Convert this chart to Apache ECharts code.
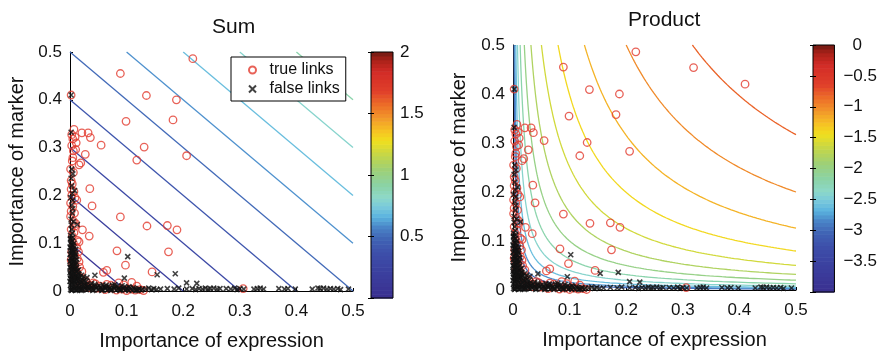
<!DOCTYPE html>
<html>
<head>
<meta charset="utf-8">
<title>Sum and Product of importances</title>
<script src="https://cdn.jsdelivr.net/npm/echarts@6/dist/echarts.min.js"></script>
<style>
  html, body { margin: 0; padding: 0; background: #fff; }
  #chart { width: 880px; height: 356px; }
</style>
</head>
<body>
<div id="chart"></div>
<script>
// ---- data -------------------------------------------------------------
// [importance of expression, importance of marker]
const trueLinks = [
  [0.217,0.486],[0.319,0.454],[0.410,0.420],[0.089,0.455],[0.135,0.409],[0.188,0.400],
  [0.099,0.355],[0.182,0.358],[0.131,0.301],[0.118,0.274],[0.206,0.283],[0.055,0.305],
  [0.089,0.155],[0.136,0.136],[0.172,0.137],[0.189,0.128],[0.174,0.082],[0.083,0.084],
  [0.098,0.054],[0.145,0.040],[0.059,0.039],[0.065,0.043],[0.109,0.018],[0.086,0.017],
  [0.306,0.005],[0.035,0.214],[0.039,0.178],[0.022,0.128],[0.034,0.115],[0.027,0.286],
  [0.016,0.264],[0.019,0.268],[0.021,0.331],[0.032,0.331],[0.036,0.321],[0.011,0.310],
  [0.007,0.338],[0.002,0.410],
  [0.003,0.327],[0.005,0.318],[0.009,0.322],[0.003,0.304],[0.006,0.293],[0.010,0.296],
  [0.005,0.279],[0.004,0.272],[0.001,0.255],[0.006,0.248],[0.002,0.231],[0.004,0.224],
  [0.002,0.213],[0.007,0.208],[0.003,0.200],[0.009,0.195],[0.012,0.190],[0.001,0.184],
  [0.005,0.177],[0.002,0.167],[0.008,0.163],[0.001,0.156],[0.006,0.146],[0.010,0.141],
  [0.009,0.136],[0.002,0.129],[0.007,0.122],[0.004,0.115],[0.013,0.106],[0.006,0.100],
  [0.016,0.103],[0.012,0.090],[0.003,0.082],[0.008,0.076],[0.013,0.068],[0.016,0.061],
  [0.004,0.058],[0.009,0.048],[0.021,0.041],[0.013,0.035],[0.018,0.028],[0.028,0.021],
  [0.041,0.017],[0.035,0.012],[0.053,0.010],[0.065,0.014],[0.048,0.006],[0.024,0.008],
  [0.034,0.007],[0.075,0.006],[0.092,0.004],[0.124,0.003],[0.108,0.004],[0.115,0.002],
  [0.062,0.003],[0.082,0.002],[0.100,0.001],[0.130,0.001],[0.005,0.040],[0.010,0.020],
  [0.002,0.065],[0.019,0.013],[0.026,0.016],[0.045,0.015],[0.072,0.012],[0.095,0.013],
  [0.118,0.010],[0.017,0.050],[0.015,0.082]
];

const falseLinks = [
  // dense cloud along the marker axis
  [0.001,0.110],[0.004,0.105],[0.002,0.098],[0.006,0.094],[0.001,0.090],[0.004,0.086],
  [0.008,0.082],[0.002,0.079],[0.005,0.075],[0.009,0.071],[0.001,0.068],[0.004,0.064],
  [0.007,0.061],[0.002,0.057],[0.010,0.055],[0.005,0.052],[0.001,0.048],[0.008,0.046],
  [0.003,0.043],[0.011,0.040],[0.006,0.037],[0.001,0.034],[0.009,0.032],[0.004,0.029],
  [0.013,0.027],[0.002,0.024],[0.007,0.022],[0.015,0.020],[0.003,0.018],[0.010,0.016],
  [0.000,0.020],[0.004,0.021],[0.008,0.019],[0.012,0.023],[0.001,0.026],[0.005,0.027],
  [0.009,0.025],[0.014,0.030],[0.002,0.032],[0.006,0.033],[0.010,0.031],[0.016,0.035],
  [0.000,0.038],[0.004,0.039],[0.008,0.037],[0.013,0.042],[0.002,0.044],[0.006,0.045],
  [0.010,0.047],[0.015,0.044],[0.000,0.050],[0.004,0.051],[0.008,0.053],[0.012,0.050],
  [0.002,0.056],[0.006,0.058],[0.011,0.060],[0.000,0.062],[0.004,0.066],[0.008,0.064],
  [0.012,0.066],[0.002,0.070],[0.006,0.072],[0.010,0.075],[0.000,0.077],[0.004,0.080],
  [0.009,0.078],[0.002,0.084],[0.006,0.088],[0.010,0.087],[0.000,0.092],[0.004,0.096],
  [0.007,0.100],[0.002,0.102],[0.001,0.108],[0.005,0.112],
  // around the origin
  [0.001,0.012],[0.005,0.013],[0.009,0.011],[0.014,0.012],[0.019,0.010],[0.024,0.011],
  [0.002,0.007],[0.006,0.008],[0.011,0.006],[0.016,0.007],[0.021,0.005],[0.027,0.006],
  [0.001,0.003],[0.004,0.002],[0.008,0.004],[0.013,0.002],[0.018,0.003],[0.023,0.002],
  [0.029,0.003],[0.003,0.001],[0.010,0.001],[0.020,0.001],[0.017,0.015],[0.021,0.018],
  [0.012,0.022],[0.026,0.014],[0.031,0.009],[0.015,0.005],[0.025,0.008],[0.030,0.014],
  [0.022,0.024],[0.017,0.028],[0.028,0.020],[0.033,0.005],[0.019,0.020],[0.024,0.030],
  [0.014,0.036],[0.020,0.033],
  // dense cloud along the expression axis
  [0.034,0.004],[0.038,0.008],[0.042,0.002],[0.046,0.006],[0.050,0.003],[0.054,0.007],
  [0.058,0.002],[0.062,0.005],[0.066,0.002],[0.070,0.006],[0.074,0.003],[0.078,0.005],
  [0.082,0.002],[0.086,0.006],[0.090,0.003],[0.094,0.005],[0.098,0.002],[0.102,0.004],
  [0.106,0.006],[0.110,0.002],[0.114,0.004],[0.118,0.003],[0.122,0.005],[0.126,0.002],
  [0.036,0.012],[0.044,0.010],[0.052,0.011],[0.060,0.009],[0.068,0.010],[0.040,0.001],
  [0.056,0.001],[0.072,0.001],[0.088,0.001],[0.104,0.001],[0.120,0.001],
  [0.032,0.010],[0.040,0.005],[0.048,0.009],[0.056,0.004],[0.064,0.008],[0.072,0.004],
  [0.080,0.009],[0.088,0.004],[0.096,0.008],[0.104,0.009],[0.112,0.007],[0.044,0.014],
  [0.058,0.013],[0.075,0.012],[0.092,0.011],[0.100,0.006],[0.116,0.001],[0.128,0.004],
  [0.084,0.010],[0.064,0.012],
  // sparse, higher up the marker axis
  [0.002,0.410],[0.002,0.332],[0.003,0.255],[0.002,0.236],[0.004,0.204],[0.005,0.190],
  [0.003,0.180],[0.004,0.163],[0.002,0.150],[0.013,0.139],[0.006,0.145],[0.003,0.129],
  [0.001,0.116],[0.004,0.121],[0.002,0.138],[0.005,0.172],[0.001,0.195],[0.008,0.210],
  [0.003,0.220],[0.005,0.245],
  // scattered in the interior
  [0.102,0.072],[0.044,0.033],[0.096,0.027],[0.154,0.034],[0.186,0.036],[0.206,0.017],
  [0.224,0.016],[0.038,0.016],[0.079,0.013],[0.030,0.028],[0.025,0.022],
  // sparse, further along the expression axis
  [0.134,0.004],[0.139,0.006],[0.144,0.003],[0.148,0.005],[0.153,0.003],[0.160,0.004],
  [0.172,0.005],[0.184,0.004],[0.192,0.006],[0.206,0.004],[0.216,0.005],[0.222,0.003],
  [0.228,0.005],[0.234,0.004],[0.239,0.006],[0.244,0.004],[0.248,0.005],[0.254,0.006],
  [0.260,0.004],[0.265,0.005],[0.276,0.005],[0.284,0.004],[0.291,0.006],[0.295,0.003],
  [0.300,0.005],[0.307,0.004],[0.325,0.004],[0.331,0.005],[0.336,0.006],[0.342,0.004],
  [0.369,0.005],[0.379,0.004],[0.385,0.005],[0.398,0.004],[0.428,0.004],[0.438,0.006],
  [0.442,0.005],[0.448,0.006],[0.454,0.004],[0.460,0.005],[0.466,0.004],[0.473,0.005],
  [0.478,0.003],[0.492,0.004]
];

// contour levels: expression + marker, and log10(expression * marker)
const sumLevels = [0.1, 0.2, 0.3, 0.4, 0.5, 0.6, 0.7, 0.8, 0.9];
const productLevels = [-3.0, -2.8, -2.6, -2.4, -2.2, -2.0,
                       -1.8, -1.6, -1.4, -1.2, -1.0, -0.8];

// colour scale ranges
const sumRange = [0, 2];
const productRange = [-4, 0];

// ---- style ------------------------------------------------------------
const FONT = '"Liberation Sans", Arial, Helvetica, sans-serif';
const RED = '#e23b2e';

// jet-like colour map (fraction -> colour)
const cmapStops = [
  [0.00, '#3a2f8f'], [0.10, '#3b3f9e'], [0.18, '#3d4ea9'], [0.24, '#4063b4'],
  [0.29, '#4a86c8'], [0.33, '#5ab3df'], [0.37, '#79c9dc'], [0.41, '#8dd8c8'],
  [0.46, '#8bd3a5'], [0.52, '#9dd078'], [0.58, '#c2d64a'], [0.64, '#f0df1e'],
  [0.68, '#f6c323'], [0.73, '#f29a2a'], [0.79, '#ec6a28'], [0.84, '#e0402a'],
  [0.92, '#d22b27'], [0.97, '#a82118'], [1.00, '#6e1a12']
];
function hexToRgb(h) {
  return [parseInt(h.slice(1, 3), 16), parseInt(h.slice(3, 5), 16), parseInt(h.slice(5, 7), 16)];
}
function cmap(f) {
  f = Math.max(0, Math.min(1, f));
  for (let i = 1; i < cmapStops.length; i++) {
    if (f <= cmapStops[i][0]) {
      const [f0, c0] = cmapStops[i - 1], [f1, c1] = cmapStops[i];
      const t = (f - f0) / (f1 - f0);
      const a = hexToRgb(c0), b = hexToRgb(c1);
      return 'rgb(' + a.map((v, k) => Math.round(v + (b[k] - v) * t)).join(',') + ')';
    }
  }
  return cmapStops[cmapStops.length - 1][1];
}

// ---- contour line builders -----------------------------------------------
function sumLine(c) {
  // x + y = c inside [0, 0.5] x [0, 0.5]
  const lo = Math.max(0, c - 0.5), hi = Math.min(c, 0.5);
  return [[lo, c - lo], [hi, c - hi]];
}
function productLine(c) {
  // x * y = 10^c inside [0, 0.5] x [0, 0.5]
  const k = Math.pow(10, c), x0 = k / 0.5, n = 160, pts = [];
  for (let i = 0; i < n; i++) {
    const x = x0 * Math.pow(0.5 / x0, i / (n - 1));
    pts.push([x, k / x]);
  }
  return pts;
}

// ---- option pieces ---------------------------------------------------------
const tickText = { fontFamily: FONT, fontSize: 17, color: '#111' };
const nameText = { fontFamily: FONT, fontSize: 20, color: '#111' };

function mainX(gridIndex) {
  return {
    type: 'value', gridIndex, min: 0, max: 0.5, interval: 0.1,
    name: 'Importance of expression', nameLocation: 'middle', nameGap: 40,
    nameTextStyle: nameText,
    axisLine: { show: true, onZero: false, lineStyle: { color: '#000', width: 1 } },
    axisTick: { show: true, inside: true, length: 3, lineStyle: { color: '#000' } },
    axisLabel: Object.assign({ margin: 12 }, tickText),
    splitLine: { show: false }
  };
}
function mainY(gridIndex, gap) {
  return {
    type: 'value', gridIndex, min: 0, max: 0.5, interval: 0.1,
    name: 'Importance of marker', nameLocation: 'middle', nameGap: gap,
    nameTextStyle: nameText,
    axisLine: { show: true, onZero: false, lineStyle: { color: '#000', width: 1 } },
    axisTick: { show: true, inside: true, length: 3, lineStyle: { color: '#000' } },
    axisLabel: Object.assign({ margin: 8 }, tickText),
    splitLine: { show: false }
  };
}

function contourSeries(levels, builder, toFrac, xi, yi) {
  return levels.map(c => ({
    type: 'line', xAxisIndex: xi, yAxisIndex: yi,
    data: builder(c), showSymbol: false, symbol: 'none', silent: true,
    clip: true, z: 1, animation: false,
    lineStyle: { color: cmap(toFrac(c)), width: 1.3 }
  }));
}

function scatterSeries(xi, yi) {
  return [
    {
      name: 'true links', type: 'scatter', xAxisIndex: xi, yAxisIndex: yi,
      data: trueLinks, symbol: 'circle', symbolSize: 7.5, z: 3, animation: false,
      itemStyle: { color: 'rgba(0,0,0,0)', borderColor: RED, borderWidth: 1.3 }
    },
    {
      name: 'false links', type: 'scatter', xAxisIndex: xi, yAxisIndex: yi,
      data: falseLinks, symbol: 'path://M0,0L10,10M10,0L0,10', symbolSize: 5, z: 4,
      animation: false,
      itemStyle: { color: 'rgba(0,0,0,0)', borderColor: '#111', borderWidth: 1.6 }
    }
  ];
}

// colour bar drawn as 64 bands over its own axis range
const NB = 64;
const bandIdx = Array.from({ length: NB }, (_, i) => i);
function colorbarSeries(range, xi, yi) {
  const [lo, hi] = range;
  return [
    {
      type: 'custom', xAxisIndex: xi, yAxisIndex: yi, data: bandIdx, silent: true,
      z: 2, animation: false,
      renderItem: function (params, api) {
        const i = api.value(0);
        const v0 = lo + (hi - lo) * i / NB, v1 = lo + (hi - lo) * (i + 1) / NB;
        const p0 = api.coord([0, v0]), p1 = api.coord([1, v1]);
        return {
          type: 'rect',
          shape: { x: p0[0], y: p1[1], width: p1[0] - p0[0], height: p0[1] - p1[1] + 0.6 },
          style: { fill: cmap((i + 0.5) / NB), stroke: null }
        };
      }
    },
    {
      type: 'custom', xAxisIndex: xi, yAxisIndex: yi, data: [0], silent: true,
      z: 6, animation: false,
      renderItem: function (params, api) {
        const p0 = api.coord([0, lo]), p1 = api.coord([1, hi]);
        return {
          type: 'rect',
          shape: { x: p0[0], y: p1[1], width: p1[0] - p0[0], height: p0[1] - p1[1] },
          style: { fill: null, stroke: '#000', lineWidth: 1 }
        };
      }
    }
  ];
}

function barX(gridIndex) {
  return { type: 'value', gridIndex, min: 0, max: 1, show: false };
}
function barY(gridIndex, range, interval, side, labels, margin, fmt, rich) {
  return {
    type: 'value', gridIndex, min: range[0], max: range[1], interval,
    position: side, z: 8,
    axisLine: { show: false },
    axisTick: { show: true, inside: true, length: 3, lineStyle: { color: '#000' } },
    axisLabel: labels
      ? Object.assign({ margin, formatter: fmt, rich: rich || {} }, tickText)
      : { show: false },
    splitLine: { show: false }
  };
}

const option = {
  backgroundColor: '#ffffff',
  animation: false,
  textStyle: { fontFamily: FONT },
  title: [
    { text: 'Sum', left: 207, top: 12,
      textStyle: { fontFamily: FONT, fontSize: 21, fontWeight: 'normal', color: '#111' } },
    { text: 'Product', left: 623, top: 5,
      textStyle: { fontFamily: FONT, fontSize: 21, fontWeight: 'normal', color: '#111' } }
  ],
  legend: {
    data: ['true links', 'false links'],
    orient: 'vertical', left: 231, top: 57,
    padding: [5, 6, 4, 17], itemGap: 3, itemWidth: 24, itemHeight: 7,
    backgroundColor: '#fff', borderColor: '#000', borderWidth: 1,
    textStyle: { fontFamily: FONT, fontSize: 16, color: '#111' },
    selectedMode: false, z: 10
  },
  grid: [
    { left: 70, top: 52, width: 283, height: 245 },
    { left: 513, top: 45, width: 283, height: 245 },
    { left: 371, top: 52, width: 22, height: 246 },
    { left: 813, top: 45, width: 23, height: 247 }
  ],
  xAxis: [mainX(0), mainX(1), barX(2), barX(3)],
  yAxis: [
    mainY(0, 43),
    mainY(1, 44),
    barY(2, sumRange, 0.5, 'right', true, 7, v => (v === 0 ? '' : String(v))),
    barY(2, sumRange, 0.5, 'left', false),
    barY(3, productRange, 0.5, 'right', true, 9,
      v => (v === 0 ? '{p|0}' : (v === -4 ? '' : '\u2212' + Math.abs(v))),
      { p: { padding: [0, 0, 0, 9], fontFamily: FONT, fontSize: 17, color: '#111' } }),
    barY(3, productRange, 0.5, 'left', false)
  ],
  series: [].concat(
    contourSeries(sumLevels, sumLine, c => (c - sumRange[0]) / (sumRange[1] - sumRange[0]), 0, 0),
    contourSeries(productLevels, productLine,
      c => (c - productRange[0]) / (productRange[1] - productRange[0]), 1, 1),
    scatterSeries(0, 0),
    scatterSeries(1, 1),
    colorbarSeries(sumRange, 2, 2),
    colorbarSeries(productRange, 3, 4)
  )
};

const chart = echarts.init(document.getElementById('chart'), null, { renderer: 'canvas' });
chart.setOption(option);
</script>
</body>
</html>
